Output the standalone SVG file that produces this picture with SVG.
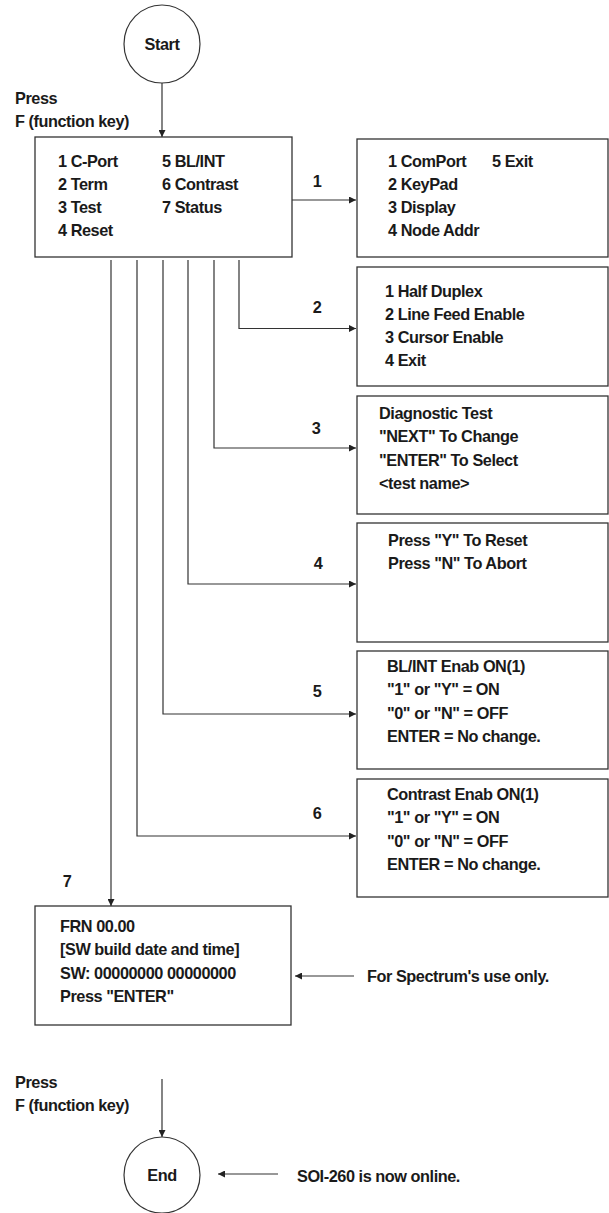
<svg xmlns="http://www.w3.org/2000/svg" width="609" height="1213" viewBox="0 0 609 1213">
<defs>
<style>
text{font-family:"Liberation Sans",Arial,sans-serif;font-weight:bold;font-size:16.3px;letter-spacing:-0.45px;fill:#1a1a1a}
.box{fill:#fff;stroke:#333;stroke-width:1.3}
.ln{fill:none;stroke:#333;stroke-width:1.2}
.mid{text-anchor:middle}
</style>
<marker id="ah" viewBox="0 0 10 10" refX="10" refY="5" markerWidth="9" markerHeight="7" markerUnits="userSpaceOnUse" orient="auto">
<path d="M0,0 L10,5 L0,10 Z" fill="#222"/>
</marker>
</defs>
<rect width="609" height="1213" fill="#fff"/>

<g id="connectors">
<line class="ln" x1="162" y1="83" x2="162" y2="137" marker-end="url(#ah)"/>
<line class="ln" x1="292" y1="200" x2="356" y2="200" marker-end="url(#ah)"/>
<polyline class="ln" points="239,260 239,328.5 356,328.5" marker-end="url(#ah)"/>
<polyline class="ln" points="214,260 214,448 356,448" marker-end="url(#ah)"/>
<polyline class="ln" points="188,260 188,584 356,584" marker-end="url(#ah)"/>
<polyline class="ln" points="163,260 163,714 356,714" marker-end="url(#ah)"/>
<polyline class="ln" points="137,260 137,836 356,836" marker-end="url(#ah)"/>
<line class="ln" x1="111" y1="260" x2="111" y2="906" marker-end="url(#ah)"/>
<line class="ln" x1="354" y1="976" x2="295" y2="976" marker-end="url(#ah)"/>
<line class="ln" x1="162" y1="1079" x2="162" y2="1137" marker-end="url(#ah)"/>
<line class="ln" x1="278" y1="1174" x2="218" y2="1174" marker-end="url(#ah)"/>
<text x="317" y="187" class="mid">1</text>
<text x="317" y="313" class="mid">2</text>
<text x="316" y="434" class="mid">3</text>
<text x="318" y="569" class="mid">4</text>
<text x="317" y="697" class="mid">5</text>
<text x="317" y="819" class="mid">6</text>
<text x="67" y="887" class="mid">7</text>
<text x="15" y="104">Press</text>
<text x="15" y="127">F (function key)</text>
<text x="15" y="1088">Press</text>
<text x="15" y="1111">F (function key)</text>
<text x="367" y="982">For Spectrum's use only.</text>
<text x="297" y="1182">SOI-260 is now online.</text>
</g>

<g id="start">
<ellipse cx="162" cy="44" rx="38" ry="39" fill="#fff" stroke="#333" stroke-width="1.2"/>
<text x="162" y="50" class="mid">Start</text>
</g>

<g id="main-menu">
<rect class="box" x="35" y="137" width="257" height="120"/>
<text x="58" y="167">1 C-Port</text>
<text x="58" y="190">2 Term</text>
<text x="58" y="213">3 Test</text>
<text x="58" y="236">4 Reset</text>
<text x="162" y="167">5 BL/INT</text>
<text x="162" y="190">6 Contrast</text>
<text x="162" y="213">7 Status</text>
</g>

<g id="cport-menu">
<rect class="box" x="357" y="139" width="251" height="118"/>
<text x="388" y="167">1 ComPort</text>
<text x="492" y="167">5 Exit</text>
<text x="388" y="190">2 KeyPad</text>
<text x="388" y="213">3 Display</text>
<text x="388" y="236">4 Node Addr</text>
</g>

<g id="term-menu">
<rect class="box" x="357" y="267" width="251" height="119"/>
<text x="385" y="297">1 Half Duplex</text>
<text x="385" y="320">2 Line Feed Enable</text>
<text x="385" y="343">3 Cursor Enable</text>
<text x="385" y="366">4 Exit</text>
</g>

<g id="test-menu">
<rect class="box" x="357" y="396" width="251" height="118"/>
<text x="379" y="419">Diagnostic Test</text>
<text x="379" y="442">"NEXT" To Change</text>
<text x="379" y="466">"ENTER" To Select</text>
<text x="379" y="489">&lt;test name&gt;</text>
</g>

<g id="reset-menu">
<rect class="box" x="357" y="523" width="251" height="119"/>
<text x="388" y="546">Press "Y" To Reset</text>
<text x="388" y="569">Press "N" To Abort</text>
</g>

<g id="blint-menu">
<rect class="box" x="357" y="651" width="251" height="118"/>
<text x="387" y="672">BL/INT Enab ON(1)</text>
<text x="387" y="695">"1" or "Y" = ON</text>
<text x="387" y="719">"0" or "N" = OFF</text>
<text x="387" y="742">ENTER = No change.</text>
</g>

<g id="contrast-menu">
<rect class="box" x="357" y="779" width="251" height="118"/>
<text x="387" y="800">Contrast Enab ON(1)</text>
<text x="387" y="823">"1" or "Y" = ON</text>
<text x="387" y="847">"0" or "N" = OFF</text>
<text x="387" y="870">ENTER = No change.</text>
</g>

<g id="status-screen">
<rect class="box" x="35" y="906" width="256" height="119"/>
<text x="60" y="932">FRN 00.00</text>
<text x="60" y="955">[SW build date and time]</text>
<text x="60" y="979">SW: 00000000 00000000</text>
<text x="60" y="1002">Press "ENTER"</text>
</g>

<g id="end">
<ellipse cx="162" cy="1175" rx="38" ry="38" fill="#fff" stroke="#333" stroke-width="1.2"/>
<text x="162" y="1181" class="mid">End</text>
</g>
</svg>
